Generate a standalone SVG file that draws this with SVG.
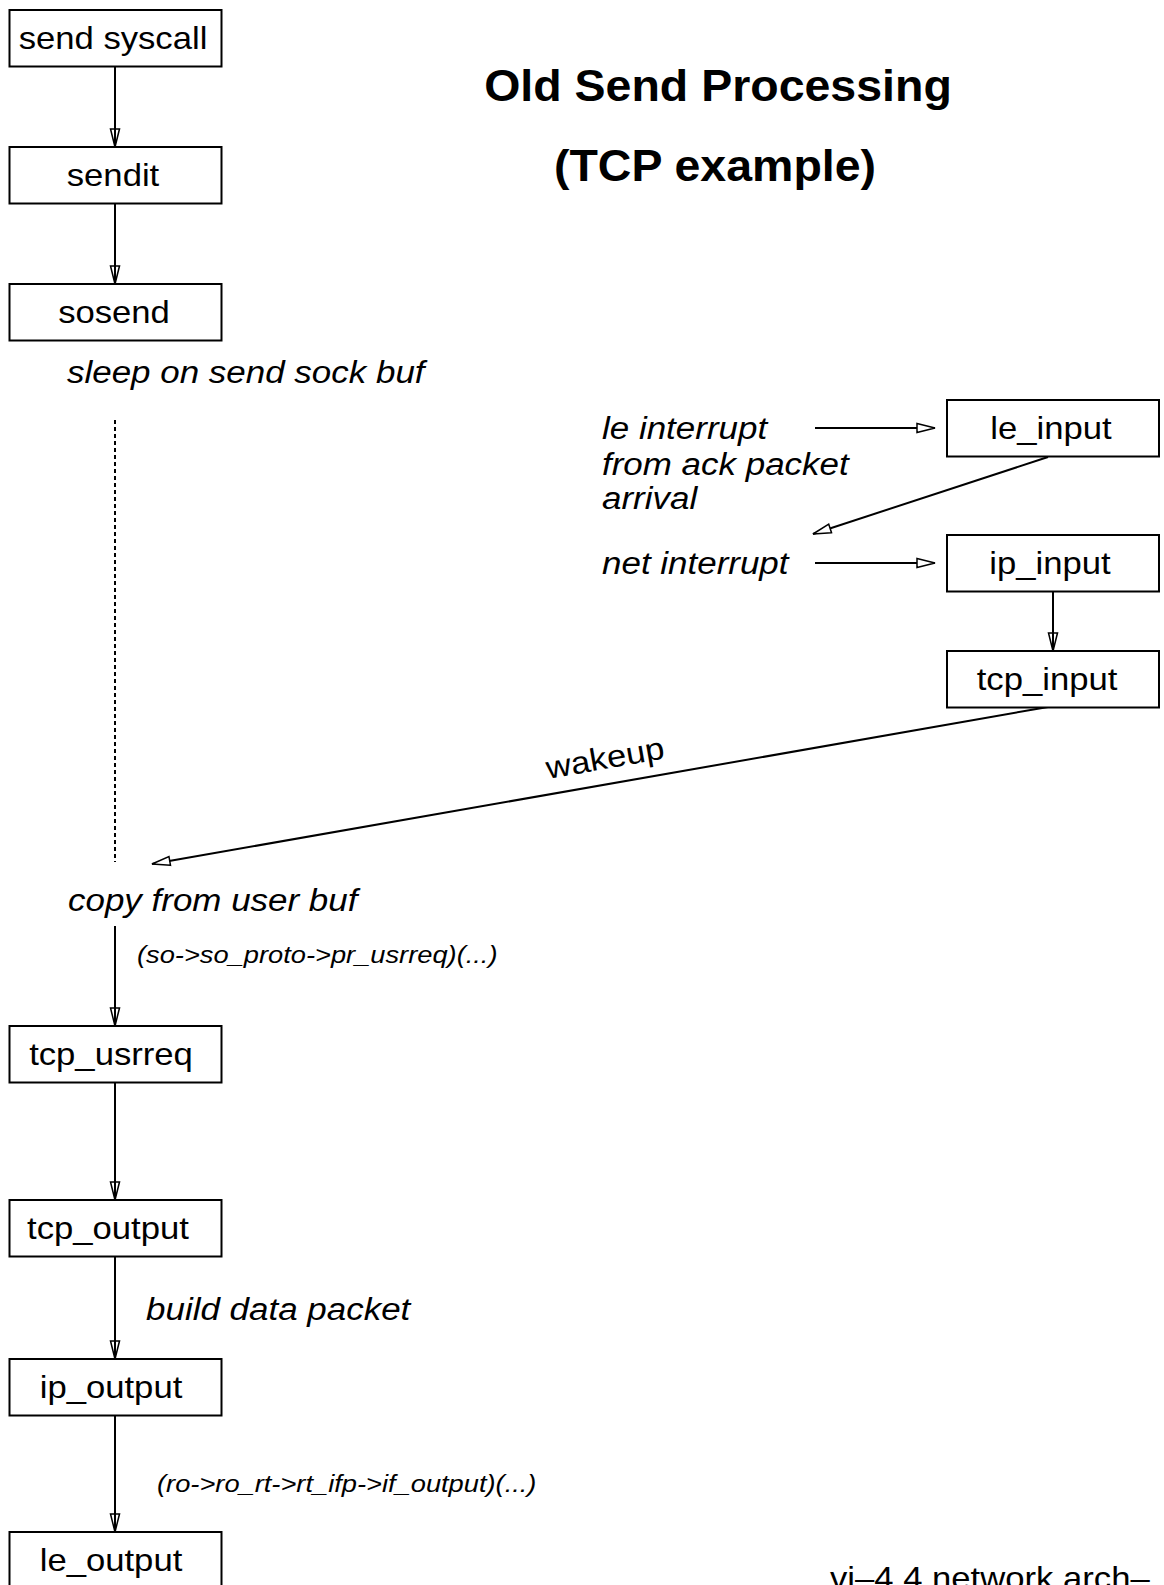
<svg xmlns="http://www.w3.org/2000/svg" width="1164" height="1585" viewBox="0 0 1164 1585">
<style>
text{font-family:"Liberation Sans",Arial,Helvetica,sans-serif;fill:#000}
.n{font-size:31.5px;text-anchor:middle}
.i{font-size:31.5px;font-style:italic}
.s{font-size:24.8px;font-style:italic}
.t{font-size:44.5px;font-weight:bold;text-anchor:middle}
.w{font-size:31.5px}
rect{fill:#fff;stroke:#000;stroke-width:2}
.c line{stroke:#000;stroke-width:2;fill:none}
.c line.a{marker-end:url(#ao)}
.c line.h{marker-end:url(#ah)}
</style>
<defs>
<marker id="ao" markerUnits="userSpaceOnUse" markerWidth="20" markerHeight="12" refX="18" refY="5" orient="auto" overflow="visible">
<path d="M0,0.5 L18,5 L0,9.5 Z" fill="none" stroke="#000" stroke-width="1.5"/>
</marker>
<marker id="ah" markerUnits="userSpaceOnUse" markerWidth="20" markerHeight="12" refX="18" refY="5" orient="auto" overflow="visible">
<path d="M0,0.5 L18,5 L0,9.5 Z" fill="#fff" stroke="#000" stroke-width="1.5"/>
</marker>
</defs>
<rect x="0" y="0" width="1164" height="1585" style="stroke:none;fill:#fff"/>
<g id="title">
<text class="t" transform="translate(718,101) scale(1.045,1)">Old Send Processing</text>
<text class="t" transform="translate(715,181) scale(1.045,1)">(TCP example)</text>
</g>
<g class="c" id="connectors">
<line class="a" x1="115" y1="67" x2="115" y2="147"/>
<line class="a" x1="115" y1="203" x2="115" y2="284"/>
<line x1="115" y1="420" x2="115" y2="862" style="stroke-width:2;stroke-dasharray:4,3"/>
<line class="h" x1="1048" y1="707" x2="152" y2="864"/>
<line class="a" x1="115" y1="926" x2="115" y2="1026"/>
<line class="a" x1="115" y1="1083" x2="115" y2="1200"/>
<line class="a" x1="115" y1="1257" x2="115" y2="1359"/>
<line class="a" x1="115" y1="1416" x2="115" y2="1532"/>
<line class="h" x1="815" y1="428" x2="935" y2="428"/>
<line class="h" x1="1048" y1="457" x2="813" y2="534"/>
<line class="h" x1="815" y1="563" x2="935" y2="563"/>
<line class="a" x1="1053" y1="592" x2="1053" y2="651"/>
</g>
<g id="send_syscall"><rect x="9.5" y="10" width="212" height="56.5"/><text class="n" transform="translate(113,49) scale(1.1,1)">send syscall</text></g>
<g id="sendit"><rect x="9.5" y="147" width="212" height="56.5"/><text class="n" transform="translate(113,186) scale(1.1,1)">sendit</text></g>
<g id="sosend"><rect x="9.5" y="284" width="212" height="56.5"/><text class="n" transform="translate(114,323) scale(1.1,1)">sosend</text></g>
<g id="tcp_usrreq"><rect x="9.5" y="1026" width="212" height="56.5"/><text class="n" transform="translate(111,1065) scale(1.1,1)">tcp_usrreq</text></g>
<g id="tcp_output"><rect x="9.5" y="1200" width="212" height="56.5"/><text class="n" transform="translate(108,1239) scale(1.1,1)">tcp_output</text></g>
<g id="ip_output"><rect x="9.5" y="1359" width="212" height="56.5"/><text class="n" transform="translate(111,1398) scale(1.1,1)">ip_output</text></g>
<g id="le_output"><rect x="9.5" y="1532" width="212" height="70"/><text class="n" transform="translate(111,1571) scale(1.1,1)">le_output</text></g>
<g id="le_input"><rect x="947" y="400" width="212" height="56.5"/><text class="n" transform="translate(1051,439) scale(1.1,1)">le_input</text></g>
<g id="ip_input"><rect x="947" y="535" width="212" height="56.5"/><text class="n" transform="translate(1050,574) scale(1.1,1)">ip_input</text></g>
<g id="tcp_input"><rect x="947" y="651" width="212" height="56.5"/><text class="n" transform="translate(1047,690) scale(1.1,1)">tcp_input</text></g>
<g id="labels">
<text class="i" transform="translate(67,383) scale(1.11,1)">sleep on send sock buf</text>
<text class="i" transform="translate(602,439) scale(1.11,1)">le interrupt</text>
<text class="i" transform="translate(602,475) scale(1.11,1)">from ack packet</text>
<text class="i" transform="translate(602,509) scale(1.11,1)">arrival</text>
<text class="i" transform="translate(602,574) scale(1.11,1)">net interrupt</text>
<text class="w" transform="translate(548,779) rotate(-10) scale(1.1,1)">wakeup</text>
<text class="i" transform="translate(68,911) scale(1.11,1)">copy from user buf</text>
<text class="s" transform="translate(137,963) scale(1.1,1)">(so-&gt;so_proto-&gt;pr_usrreq)(...)</text>
<text class="i" transform="translate(146,1320) scale(1.11,1)">build data packet</text>
<text class="s" transform="translate(157,1492) scale(1.1,1)">(ro-&gt;ro_rt-&gt;rt_ifp-&gt;if_output)(...)</text>
<text class="w" transform="translate(830,1589) scale(1.1,1)">vi–4.4 network arch–</text>
</g>
</svg>
